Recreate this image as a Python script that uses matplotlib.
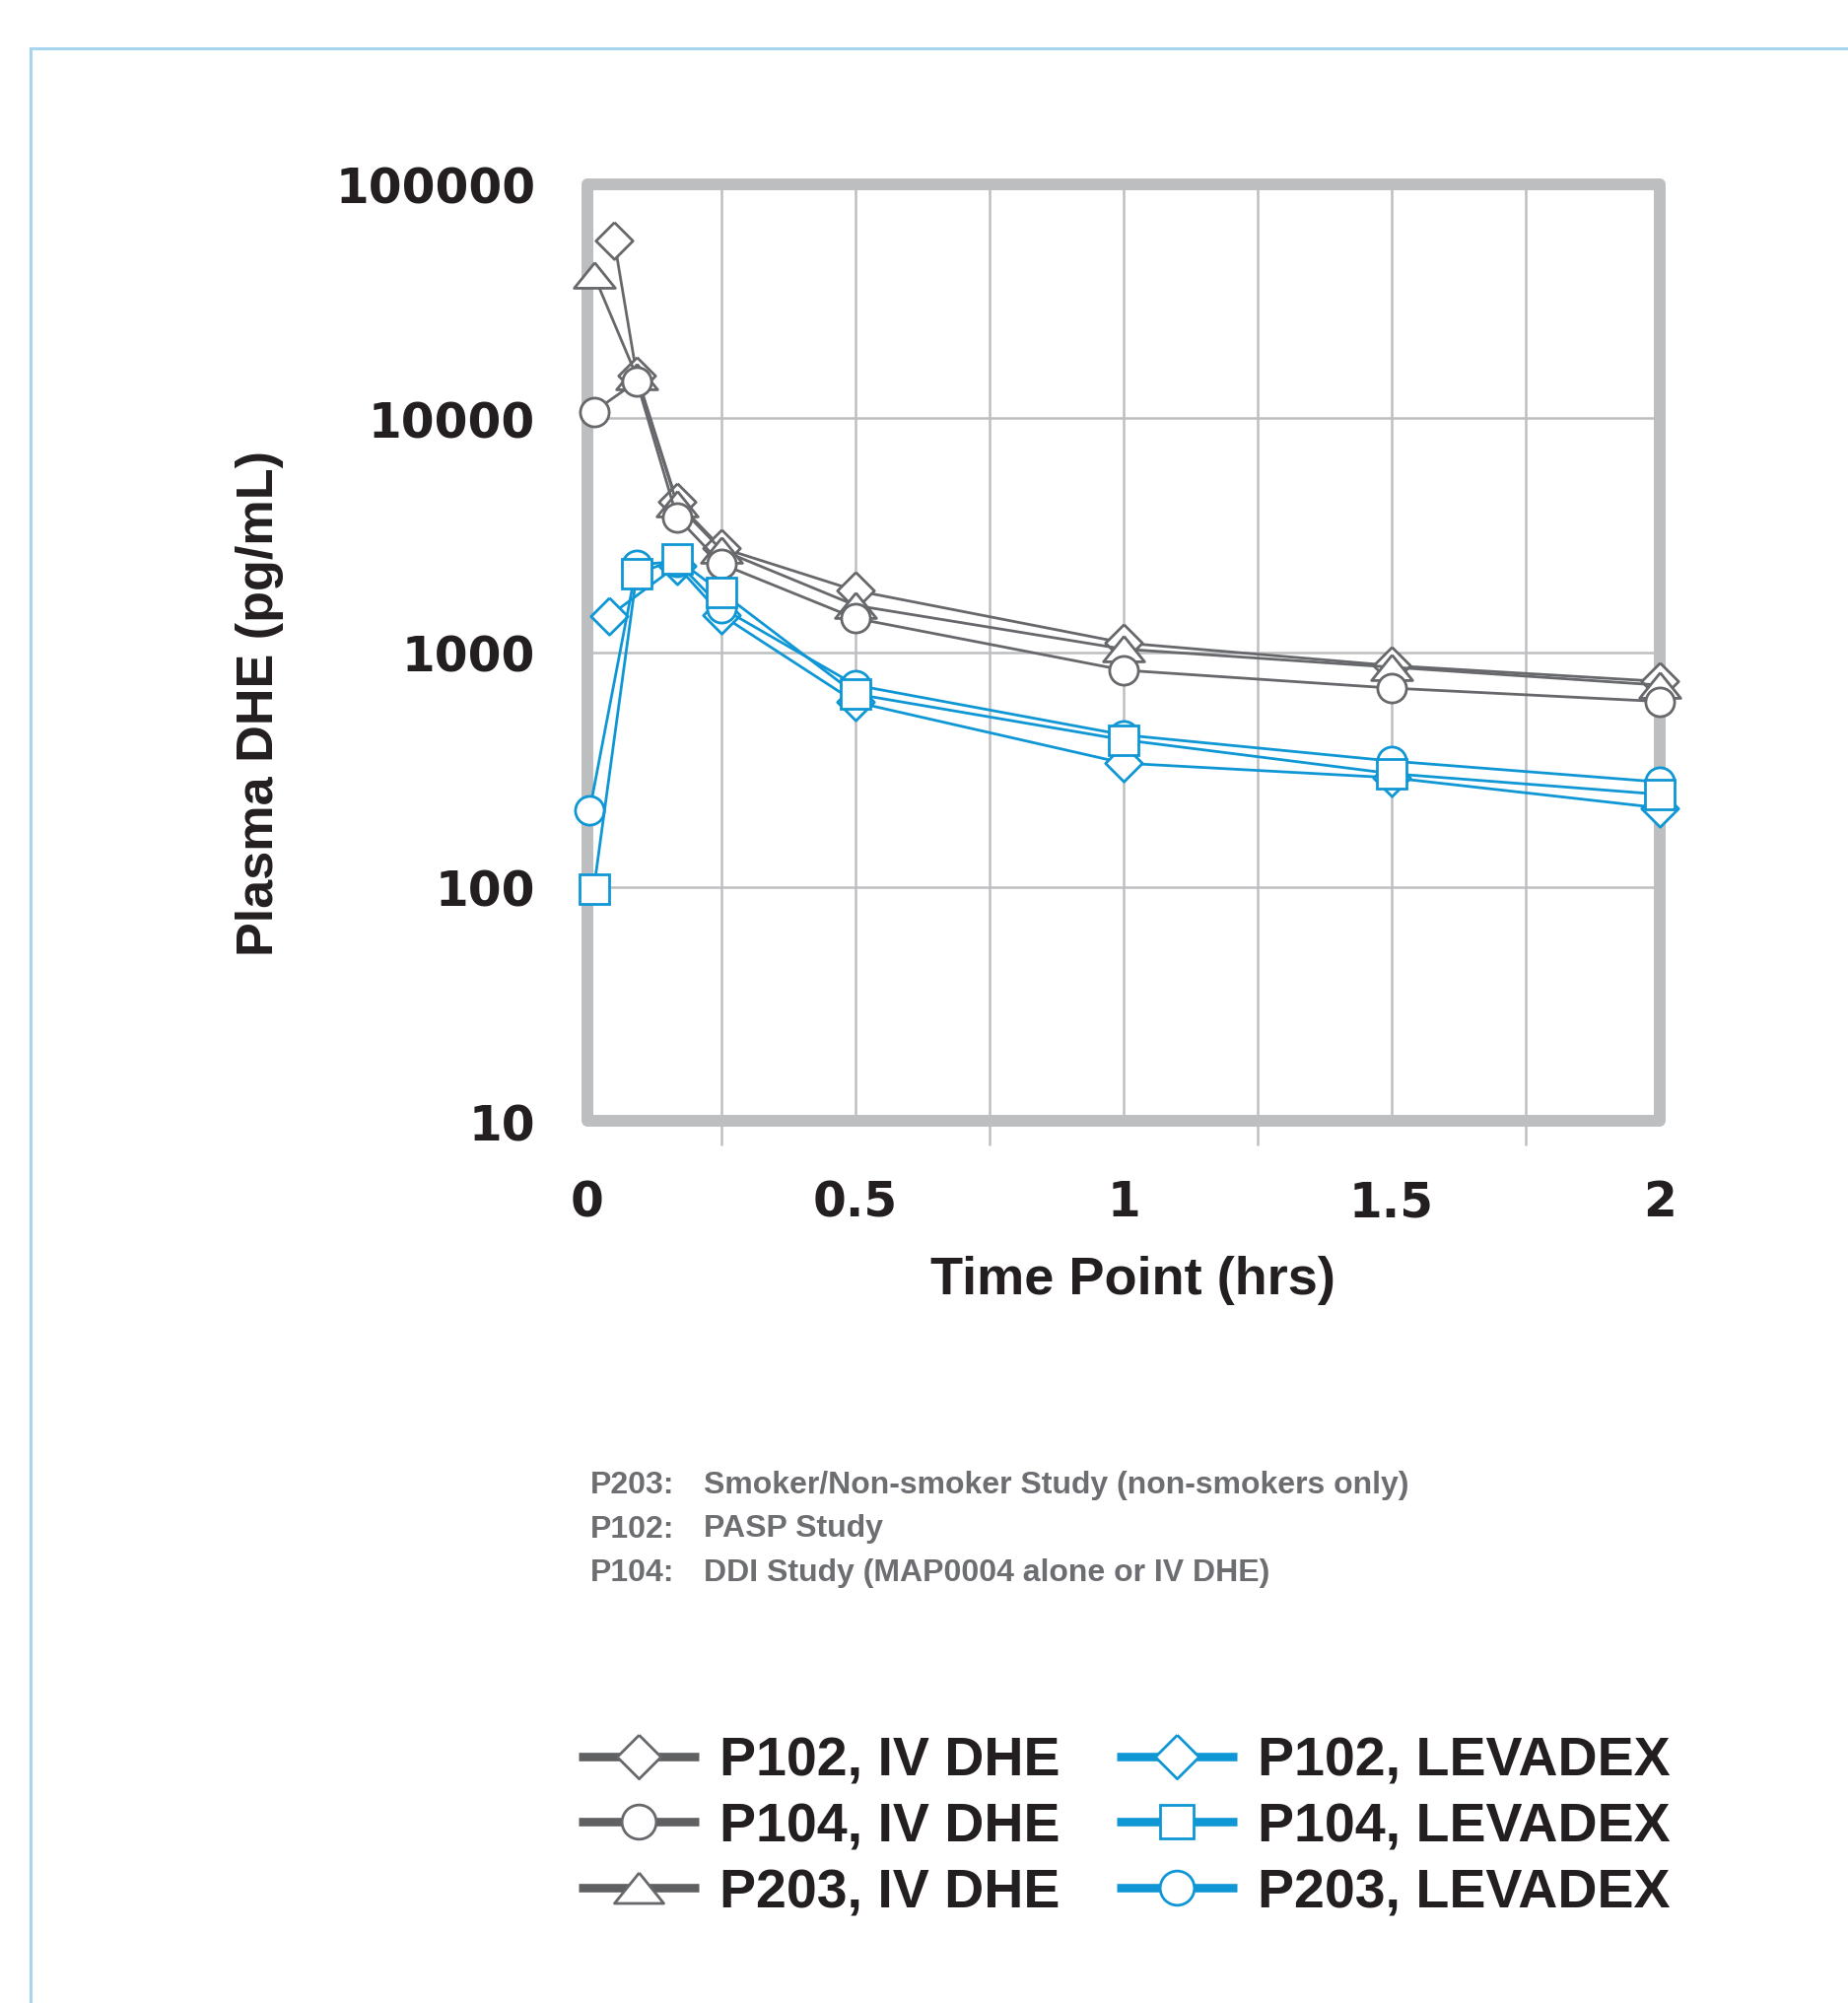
import matplotlib
matplotlib.use('Agg')
import matplotlib.pyplot as plt
from matplotlib.lines import Line2D
from matplotlib.patches import Rectangle
from matplotlib.ticker import FixedLocator, FixedFormatter

# Plasma DHE (pg/mL) over time (hrs)
t_p102_iv = [0.05, 0.092, 0.167, 0.25, 0.5, 1, 1.5, 2]
c_p102_iv = [57500, 15300, 4400, 2800, 1840, 1100, 880, 753]
t_p104_iv = [0.012, 0.092, 0.167, 0.25, 0.5, 1, 1.5, 2]
c_p104_iv = [10700, 14400, 3790, 2390, 1400, 841, 705, 618]
t_p203_iv = [0.012, 0.092, 0.167, 0.25, 0.5, 1, 1.5, 2]
c_p203_iv = [41000, 15100, 4310, 2740, 1590, 1035, 866, 726]

t_p102_lev = [0.041, 0.167, 0.25, 0.5, 1, 1.5, 2]
c_p102_lev = [1435, 2350, 1445, 614, 337, 292, 217]
t_p104_lev = [0.012, 0.092, 0.167, 0.25, 0.5, 1, 1.5, 2]
c_p104_lev = [98, 2170, 2510, 1810, 665, 424, 304, 248]
t_p203_lev = [0.004, 0.092, 0.167, 0.25, 0.5, 1, 1.5, 2]
c_p203_lev = [211, 2370, 2450, 1553, 726, 445, 344, 280]

y_ticks = [10, 100, 1000, 10000, 100000]
y_labels = ['10', '100', '1000', '10000', '100000']
x_ticks = [0, 0.5, 1, 1.5, 2]
x_labels = ['0', '0.5', '1', '1.5', '2']

notes = [('P203:', 'Smoker/Non-smoker Study (non-smokers only)'),
         ('P102:', 'PASP Study'),
         ('P104:', 'DDI Study (MAP0004 alone or IV DHE)')]

GRAY = '#67686b'
BLUE = '#0f97d5'
FRAME = '#bcbec0'
INK = '#231f20'
SANS = ['Liberation Sans', 'DejaVu Sans']

DIAMOND = [(0, 1), (1, 0), (0, -1), (-1, 0), (0, 1)]
TRIANGLE = [(0, 0.62), (1, -0.62), (-1, -0.62), (0, 0.62)]

W, H = 1875, 2033
fig = plt.figure(figsize=(W / 100, H / 100), dpi=100)

# light blue page frame
fig.add_artist(Line2D([31 / W, 1], [1 - 50 / H, 1 - 50 / H], color='#a7d5f1', lw=2.2))
fig.add_artist(Line2D([31 / W, 31 / W], [0, 1 - 50 / H], color='#a7d5f1', lw=2.2))

ax = fig.add_axes([596 / W, 1 - 1138 / H, (1684 - 596) / W, (1138 - 188) / H])
ax.set_yscale('log')
ax.set_xlim(0, 2)
ax.set_ylim(10, 100000)

series = [
    (t_p102_iv, c_p102_iv, GRAY, DIAMOND, 27),
    (t_p203_iv, c_p203_iv, GRAY, TRIANGLE, 30),
    (t_p104_iv, c_p104_iv, GRAY, 'o', 21),
    (t_p102_lev, c_p102_lev, BLUE, DIAMOND, 27),
    (t_p203_lev, c_p203_lev, BLUE, 'o', 21),
    (t_p104_lev, c_p104_lev, BLUE, 's', 21),
]
for i, (t, c, col, mk, ms) in enumerate(series):
    ax.plot(t, c, color=col, lw=2.0, marker=mk, ms=ms, mfc='white', mec=col,
            mew=2.0, clip_on=False, zorder=4 + i)

for s in ax.spines.values():
    s.set_visible(False)
ax.add_patch(Rectangle((0, 0), 1, 1, transform=ax.transAxes, fill=False,
                       ec=FRAME, lw=8.6, joinstyle='round', clip_on=False, zorder=3))

# labels on the major ticks, visible tick marks only on the inner minor ones
ax.set_axisbelow(True)
ax.yaxis.set_major_locator(FixedLocator(y_ticks))
ax.yaxis.set_major_formatter(FixedFormatter(y_labels))
ax.yaxis.set_minor_locator(FixedLocator(y_ticks[1:]))
ax.xaxis.set_major_locator(FixedLocator(x_ticks))
ax.xaxis.set_major_formatter(FixedFormatter(x_labels))
ax.xaxis.set_minor_locator(FixedLocator([0.25, 0.5, 0.75, 1, 1.25, 1.5, 1.75]))
ax.grid(True, which='both', color=FRAME, lw=1.8)
ax.tick_params(axis='y', which='major', length=0, pad=38)
ax.tick_params(axis='y', which='minor', length=13, width=1.8, color=FRAME)
ax.tick_params(axis='x', which='major', length=0, pad=42)
ax.tick_params(axis='x', which='minor', length=18, width=1.8, color=FRAME)
for lab in ax.get_xticklabels() + ax.get_yticklabels():
    lab.set_fontfamily('DejaVu Sans')
    lab.set_fontweight('bold')
    lab.set_fontsize(35)
    lab.set_color(INK)

fig.text(1149 / W, 1 - 1299 / H, 'Time Point (hrs)', ha='center', va='center',
         fontsize=39, fontweight='bold', family=SANS, color=INK)
fig.text(264 / W, 1 - 713 / H, 'Plasma DHE (pg/mL)', ha='center', va='center',
         rotation=90, fontsize=37.5, fontweight='bold', family=SANS, color=INK)

for k, (code, desc) in enumerate(notes):
    y = 1 - (1507 + 44.5 * k) / H
    fig.text(599 / W, y, code, ha='left', va='center', fontsize=23,
             fontweight='bold', family=SANS, color='#6d6e71')
    fig.text(714 / W, y, desc, ha='left', va='center', fontsize=23,
             fontweight='bold', family=SANS, color='#6d6e71')

handles = [
    Line2D([], [], color='#5f6062', lw=6.2, marker=DIAMOND, ms=32, mfc='white', mec=GRAY, mew=2),
    Line2D([], [], color='#5f6062', lw=6.2, marker='o', ms=25, mfc='white', mec=GRAY, mew=2),
    Line2D([], [], color='#5f6062', lw=6.2, marker=TRIANGLE, ms=36, mfc='white', mec=GRAY, mew=2),
    Line2D([], [], color=BLUE, lw=6.2, marker=DIAMOND, ms=32, mfc='white', mec=BLUE, mew=2),
    Line2D([], [], color=BLUE, lw=6.2, marker='s', ms=25, mfc='white', mec=BLUE, mew=2),
    Line2D([], [], color=BLUE, lw=6.2, marker='o', ms=25, mfc='white', mec=BLUE, mew=2),
]
for h in handles:
    h.set_solid_capstyle('butt')
labels = ['P102, IV DHE', 'P104, IV DHE', 'P203, IV DHE',
          'P102, LEVADEX', 'P104, LEVADEX', 'P203, LEVADEX']
leg = fig.legend(handles, labels, ncol=2, loc='upper left',
                 bbox_to_anchor=(587 / W, 1 - 1762 / H), frameon=False,
                 prop={'family': SANS, 'weight': 'bold', 'size': 40},
                 handlelength=2.2, handletextpad=0.38, columnspacing=1.03,
                 labelspacing=0.265, borderpad=0, borderaxespad=0, numpoints=1)
for txt in leg.get_texts():
    txt.set_color(INK)

fig.savefig('out.png', dpi=100)
